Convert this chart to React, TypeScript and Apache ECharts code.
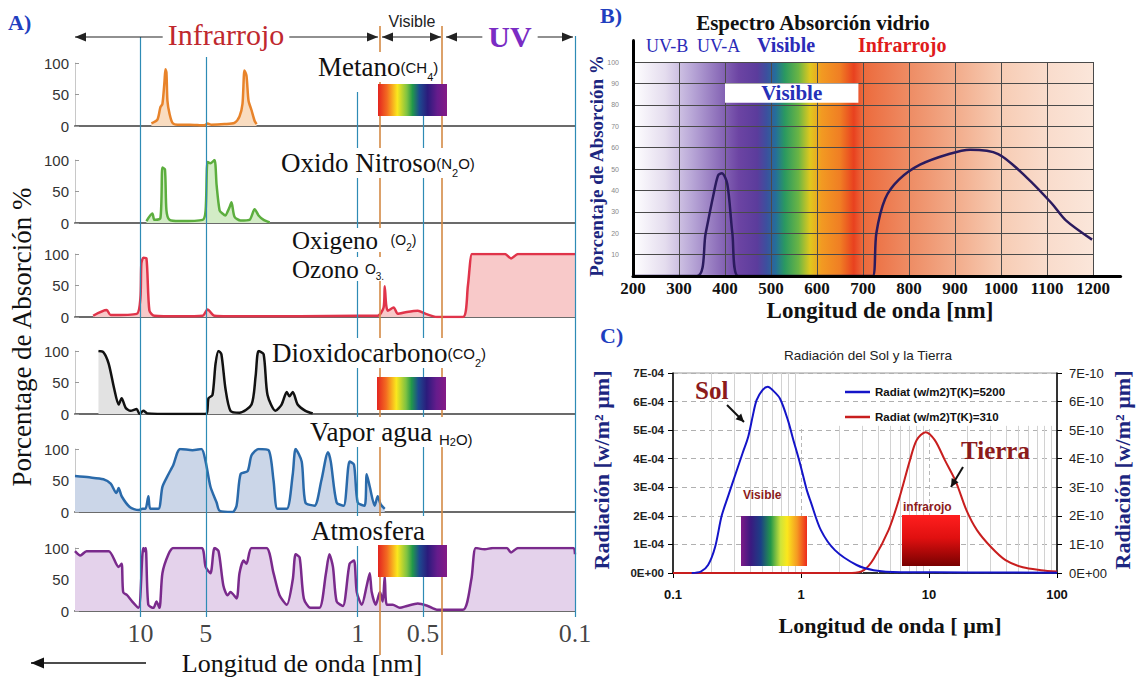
import React, { useEffect, useRef } from 'react';
import * as echarts from 'echarts';

const SERIF = '"Liberation Serif", "Times New Roman", serif';
const SANS = '"Liberation Sans", Arial, Helvetica, sans-serif';

// ---------------- Panel A: absorption (%) vs wavelength (µm, log, reversed) ----------------
const metano = [[8.9,4],[8.35,10],[8.09,30],[7.92,35],[7.75,70],[7.67,90],[7.59,85],[7.51,40],[7.35,20],[7.12,5],[6.75,2],[5.94,2],[5.07,1],[4.91,4],[4.71,2],[4.1,3],[3.69,5],[3.5,15],[3.39,35],[3.32,88],[3.25,80],[3.18,40],[3.08,25],[2.98,8],[2.92,3]];
const oxidoNitroso = [[9.38,3],[8.81,15],[8.62,5],[8.09,8],[7.92,88],[7.71,85],[7.59,20],[7.35,5],[6.61,3],[5.17,5],[5.01,20],[4.91,97],[4.76,95],[4.56,100],[4.46,60],[4.32,20],[4.19,15],[4.06,12],[3.97,18],[3.89,25],[3.81,33],[3.69,10],[3.46,4],[3.15,5],[2.98,22],[2.86,12],[2.71,5],[2.54,1]];
const oxigenoOzono = [[16.5,2],[14.3,11],[13.7,3],[10.4,5],[10.0,30],[9.9,85],[9.69,94],[9.38,93],[9.09,10],[8.62,2],[6.61,1],[5.17,2],[4.91,12],[4.56,2],[3.15,1],[1.85,1],[0.99,2],[0.809,2],[0.76,15],[0.751,49],[0.74,20],[0.727,10],[0.683,15],[0.654,5],[0.594,8],[0.529,10],[0.486,5],[0.432,0],[0.328,0],[0.311,50],[0.298,100],[0.286,100],[0.21,100],[0.197,93],[0.183,100],[0.1,100]];
const dioxidoCarbono = [[15.6,100],[14.8,98],[14.0,80],[13.2,40],[12.6,15],[12.2,25],[11.7,10],[11.1,5],[10.4,8],[10.1,0],[9.69,5],[9.29,1],[7.0,0],[5.01,0],[4.86,25],[4.66,30],[4.51,80],[4.37,100],[4.24,95],[4.06,40],[3.85,5],[3.5,2],[3.08,15],[2.95,60],[2.86,100],[2.71,95],[2.6,30],[2.39,5],[2.24,15],[2.12,35],[2.06,28],[1.99,35],[1.89,15],[1.74,5],[1.61,1]];
const vaporAgua = [[20,57],[17.2,55],[14.8,52],[13.7,45],[12.9,30],[12.6,38],[12.2,25],[11.2,8],[10.2,3],[9.79,5],[9.48,5],[9.19,25],[9.0,5],[8.26,5],[7.92,40],[7.43,60],[7.05,75],[6.75,95],[6.54,100],[5.76,98],[5.24,100],[5.01,80],[4.76,40],[4.46,15],[4.32,2],[3.77,0],[3.61,10],[3.46,60],[3.21,65],[3.08,90],[2.86,100],[2.57,98],[2.44,50],[2.34,5],[2.12,5],[1.99,60],[1.93,100],[1.81,80],[1.74,15],[1.58,10],[1.47,50],[1.37,95],[1.33,80],[1.25,15],[1.16,10],[1.09,80],[1.04,75],[1.0,15],[0.929,10],[0.909,60],[0.88,40],[0.835,10],[0.809,25],[0.784,12],[0.751,5]];
const atmosfera = [[20,95],[18.9,88],[17.7,95],[14.0,95],[12.6,70],[12.2,75],[12.0,30],[11.5,25],[10.9,15],[10.2,5],[9.79,90],[9.69,100],[9.59,95],[9.45,100],[9.2,10],[8.71,5],[8.44,15],[8.17,5],[7.92,60],[7.43,90],[7.05,100],[5.24,100],[5.01,70],[4.76,60],[4.56,100],[4.37,95],[4.15,40],[3.97,25],[3.85,30],[3.61,20],[3.5,60],[3.35,80],[3.25,75],[3.08,100],[2.63,100],[2.44,60],[2.29,25],[2.12,10],[1.99,50],[1.93,90],[1.85,85],[1.77,20],[1.65,5],[1.5,5],[1.4,60],[1.35,90],[1.3,70],[1.25,15],[1.17,8],[1.09,75],[1.04,80],[1.01,30],[0.958,10],[0.909,40],[0.88,60],[0.862,30],[0.826,10],[0.79,30],[0.767,15],[0.751,55],[0.735,10],[0.69,10],[0.64,5],[0.594,8],[0.529,12],[0.476,8],[0.432,2],[0.328,2],[0.3,50],[0.286,100],[0.26,98],[0.239,100],[0.206,100],[0.197,93],[0.183,100],[0.102,100],[0.1,90]];
const aGuideWavelengths = [10, 5, 1, 0.5, 0.1];
const aVisibleBounds = [0.79, 0.41];
const aTickLabels = [10, 5, 1, 0.5, 0.1];

// ---------------- Panel B: glass absorption (%) vs wavelength (nm) ----------------
const bWavelengthTicks = [200, 300, 400, 500, 600, 700, 800, 900, 1000, 1100, 1200];
const bPercentTicks = [10, 20, 30, 40, 50, 60, 70, 80, 90, 100];
const vidrio = [[200,0],[339,0],[358,20],[374,37],[385,47],[393,48],[405,43],[416,20],[429,0],[700,0],[721,0],[729,20],[748,36],[778,45],[824,52],[887,57],[933,59],[994,57],[1056,46],[1110,34],[1141,26],[1198,17]];

// ---------------- Panel C: radiation vs wavelength (µm, log) ----------------
const solName = 'Radiat (w/m2)T(K)=5200';
const tierraName = 'Radiat (w/m2)T(K)=310';
const sol = [[0.14,0],[0.165,0.05e-4],[0.188,0.28e-4],[0.213,0.9e-4],[0.24,2.0e-4],[0.27,2.7e-4],[0.31,3.5e-4],[0.35,4.2e-4],[0.386,4.75e-4],[0.42,5.5e-4],[0.45,6.05e-4],[0.5,6.4e-4],[0.55,6.52e-4],[0.6,6.4e-4],[0.686,6.1e-4],[0.79,5.35e-4],[0.866,4.7e-4],[0.98,3.85e-4],[1.11,2.9e-4],[1.19,2.5e-4],[1.43,1.5e-4],[1.84,0.8e-4],[2.72,0.28e-4],[3.7,0.1e-4],[6,0.03e-4],[20,0.02e-4],[100,0.01e-4]];
const tierra = [[0.1,0],[2.5,0],[3.1,0.1e-10],[3.7,0.5e-10],[4.83,1.5e-10],[5.8,2.55e-10],[7.1,3.95e-10],[8.0,4.65e-10],[9.4,4.93e-10],[11.1,4.65e-10],[13.3,3.95e-10],[16.2,3.2e-10],[19.6,2.2e-10],[23.7,1.5e-10],[30.6,0.9e-10],[39.6,0.45e-10],[54,0.2e-10],[75,0.1e-10],[100,0.05e-10]];
const cMinorWavelengths = [0.2,0.3,0.4,0.5,0.6,0.7,0.8,0.9,2,3,4,5,6,7,8,9,20,30,40,50,60,70,80,90];
const cMajorWavelengths = [1, 10];

// ---------------- layout ----------------
const A_LEFT = 75, A_WIDTH = 500, A_H = 63;
const A_TOPS = [63, 160, 254, 351, 449, 548];
const A_GUIDE_TOPS = [37, 57, 92, 116, 36];

const rows = [
  { data: metano, line: '#e8832a', fill: '#f9dcc0' },
  { data: oxidoNitroso, line: '#5cae3e', fill: '#d3ecc6' },
  { data: oxigenoOzono, line: '#e0344a', fill: '#f8c9c9' },
  { data: dioxidoCarbono, line: '#111111', fill: '#e2e2e2' },
  { data: vaporAgua, line: '#2a6aaa', fill: '#cbd6e8' },
  { data: atmosfera, line: '#7a2a8c', fill: '#e4d2eb' },
];

const specA = () => new echarts.graphic.LinearGradient(0, 0, 1, 0, [
  { offset: 0, color: '#e3241f' }, { offset: 0.13, color: '#f36a21' }, { offset: 0.28, color: '#fbe71d' },
  { offset: 0.42, color: '#7dc242' }, { offset: 0.5, color: '#22984a' }, { offset: 0.6, color: '#1d4a8f' },
  { offset: 0.72, color: '#2b1b7c' }, { offset: 0.86, color: '#651c8c' }, { offset: 1, color: '#851a86' },
]);
const specC = () => new echarts.graphic.LinearGradient(0, 0, 1, 0, [
  { offset: 0, color: '#7d1a88' }, { offset: 0.15, color: '#3a1a80' }, { offset: 0.3, color: '#1c3f86' },
  { offset: 0.45, color: '#23974a' }, { offset: 0.6, color: '#cfe43a' }, { offset: 0.7, color: '#fbe71d' },
  { offset: 0.85, color: '#f59a22' }, { offset: 1, color: '#ee2a1c' },
]);
const specB = () => new echarts.graphic.LinearGradient(0, 0, 1, 0, [
  { offset: 0, color: '#ffffff' }, { offset: 0.07, color: '#e4dcee' }, { offset: 0.13, color: '#b7a5d6' },
  { offset: 0.19, color: '#8a6bb8' }, { offset: 0.23, color: '#6c44a3' }, { offset: 0.27, color: '#5b3c9c' },
  { offset: 0.29, color: '#3d4f9e' }, { offset: 0.31, color: '#256e9a' }, { offset: 0.33, color: '#2a9960' },
  { offset: 0.36, color: '#6bb544' }, { offset: 0.385, color: '#e0c81e' }, { offset: 0.41, color: '#f29a22' },
  { offset: 0.45, color: '#f07e24' }, { offset: 0.48, color: '#e8411f' }, { offset: 0.5, color: '#ec6a3c' },
  { offset: 0.6, color: '#ee8c64' }, { offset: 0.7, color: '#f2ab8a' }, { offset: 0.8, color: '#f7ccb4' },
  { offset: 0.9, color: '#f9dccc' }, { offset: 1, color: '#fbe6da' },
]);

function txt(text: string, x: number, y: number, font: string, fill: string, extra: any = {}, elExtra: any = {}) {
  const align = extra.align || 'left';
  return {
    type: 'text', x, y, z: 100, ...elExtra,
    style: { text, font, fill, align, textAlign: align, verticalAlign: 'middle', textVerticalAlign: 'middle', ...extra },
  };
}

function rich(x: number, y: number, text: string, richDef: any, bg = true) {
  return {
    type: 'text', x, y, z: 100,
    style: {
      text, rich: richDef, align: 'left', textAlign: 'left', verticalAlign: 'middle', textVerticalAlign: 'middle',
      backgroundColor: bg ? '#ffffff' : undefined, padding: [0, 2, 0, 2],
    },
  };
}

function arrow(x1: number, y1: number, x2: number, y2: number, color: string, width: number, heads: [boolean, boolean], L = 11, Wd = 4.5) {
  const els: any[] = [{ type: 'line', z: 90, shape: { x1, y1, x2, y2 }, style: { stroke: color, lineWidth: width } }];
  const head = (tx: number, ty: number, fx: number, fy: number) => {
    const a = Math.atan2(ty - fy, tx - fx);
    const bx = tx - L * Math.cos(a), by = ty - L * Math.sin(a);
    return {
      type: 'polygon', z: 91,
      shape: { points: [[tx, ty], [bx - Wd * Math.sin(a), by + Wd * Math.cos(a)], [bx + Wd * Math.sin(a), by - Wd * Math.cos(a)]] },
      style: { fill: color },
    };
  };
  if (heads[0]) els.push(head(x1, y1, x2, y2));
  if (heads[1]) els.push(head(x2, y2, x1, y1));
  return els;
}

const sub = (size: number) => ({ fontFamily: SANS, fontSize: size, fill: '#111', verticalAlign: 'bottom' });
const rowRich = {
  m: { fontFamily: SERIF, fontSize: 27, fill: '#111', lineHeight: 30 },
  s: { fontFamily: SANS, fontSize: 15, fill: '#111' },
  u: sub(11),
};
const rowRichTight = {
  m: { fontFamily: SERIF, fontSize: 25, fill: '#111', lineHeight: 24 },
  s: { fontFamily: SANS, fontSize: 14, fill: '#111' },
  u: sub(10),
};

const sciLabel = (exp: number) => (v: number) => {
  if (v === 0) return '0E+00';
  return `${Math.round(v / Math.pow(10, exp))}E-${String(-exp).padStart(2, '0')}`;
};

function buildOption() {
  const grid: any[] = [];
  const xAxis: any[] = [];
  const yAxis: any[] = [];
  const series: any[] = [];

  // Panel A rows
  rows.forEach((r, i) => {
    grid.push({ left: A_LEFT, top: A_TOPS[i], width: A_WIDTH, height: A_H });
    xAxis.push({
      type: 'log', logBase: 10, gridIndex: i, min: 0.1, max: 20, inverse: true,
      axisLine: { show: true, onZero: false, lineStyle: { color: '#6b6b6b', width: 2 } },
      axisTick: { show: false }, axisLabel: { show: false }, splitLine: { show: false },
    });
    yAxis.push({
      type: 'value', gridIndex: i, min: 0, max: 100, interval: 50,
      axisLine: { show: true, lineStyle: { color: '#c8c8c8', width: 1 } },
      axisTick: { show: true, inside: true, length: 4, lineStyle: { color: '#999' } },
      axisLabel: { fontFamily: SANS, fontSize: 15, color: '#333', margin: 6 },
      splitLine: { show: false },
    });
    series.push({
      type: 'line', xAxisIndex: i, yAxisIndex: i, data: r.data, symbol: 'none', showSymbol: false,
      smooth: 0.25, lineStyle: { color: r.line, width: 2.5 }, areaStyle: { color: r.fill, opacity: 1 }, z: 2,
    });
  });

  // Panel A overlay (guides and bottom tick labels); y axis is the page's vertical pixel position
  grid.push({ left: A_LEFT, top: 0, width: A_WIDTH, height: 678 });
  xAxis.push({ type: 'log', logBase: 10, gridIndex: 6, min: 0.1, max: 20, inverse: true, show: false });
  yAxis.push({ type: 'value', gridIndex: 6, min: 0, max: 678, inverse: true, show: false });
  series.push({
    type: 'scatter', xAxisIndex: 6, yAxisIndex: 6, z: 4,
    data: aTickLabels.map((v) => [v, 633]),
    symbolSize: 1, itemStyle: { color: 'rgba(0,0,0,0)' },
    label: { show: true, position: 'inside', formatter: (p: any) => String(p.value[0]), fontFamily: SERIF, fontSize: 26, color: '#111' },
    markLine: {
      silent: true, symbol: ['none', 'none'], label: { show: false }, animation: false,
      data: [
        ...aGuideWavelengths.map((v, k) => [{ coord: [v, A_GUIDE_TOPS[k]], lineStyle: { color: '#2e8bb5', width: 1.2, type: 'solid' } }, { coord: [v, 617] }]),
        ...aVisibleBounds.map((v) => [{ coord: [v, 26], lineStyle: { color: '#d48a45', width: 1.6, type: 'solid' } }, { coord: [v, 655] }]),
      ],
    },
  });

  // Panel B
  const bIdx = 7;
  grid.push({ left: 633, top: 40.6, width: 487.6, height: 235.4 });
  xAxis.push({
    type: 'value', gridIndex: bIdx, min: 200, max: 1260, interval: 100, z: 10,
    axisLine: { show: true, onZero: false, lineStyle: { color: '#000', width: 3 } },
    axisTick: { show: false },
    axisLabel: { fontFamily: SERIF, fontWeight: 'bold', fontSize: 17, color: '#111', margin: 4, formatter: (v: number) => (v > 1200 ? '' : String(v)) },
    splitLine: { show: false },
  });
  yAxis.push({
    type: 'value', gridIndex: bIdx, min: 0, max: 110, interval: 10, z: 10,
    axisLine: { show: true, lineStyle: { color: '#000', width: 3 } },
    axisTick: { show: false },
    axisLabel: { fontFamily: SANS, fontSize: 7, color: '#888', margin: 14, formatter: (v: number) => (v === 0 || v > 100 ? '' : String(v)) },
    splitLine: { show: false },
  });
  series.push({
    type: 'line', xAxisIndex: bIdx, yAxisIndex: bIdx, data: [[200, 0]], symbol: 'none', lineStyle: { opacity: 0 }, z: 1,
    markArea: { silent: true, z: 1, data: [[{ xAxis: 200, yAxis: 0, itemStyle: { color: specB() } }, { xAxis: 1200, yAxis: 100 }]] },
    markLine: {
      silent: true, z: 3, symbol: ['none', 'none'], label: { show: false }, lineStyle: { color: '#4a4a4a', width: 1, type: 'solid' },
      data: [
        ...bWavelengthTicks.slice(1).map((v) => [{ coord: [v, 0] }, { coord: [v, 100] }]),
        ...bPercentTicks.map((v) => [{ coord: [200, v] }, { coord: [1200, v] }]),
      ],
    },
  });
  series.push({
    type: 'line', xAxisIndex: bIdx, yAxisIndex: bIdx, data: [[200, 0]], symbol: 'none', lineStyle: { opacity: 0 }, z: 6,
    markArea: {
      silent: true, z: 6,
      data: [[{
        xAxis: 400, yAxis: 81, itemStyle: { color: '#ffffff' },
        label: { show: true, position: 'inside', formatter: 'Visible', fontFamily: SERIF, fontWeight: 'bold', fontSize: 21, color: '#2530b8' },
      }, { xAxis: 690, yAxis: 90 }]],
    },
  });
  series.push({
    type: 'line', name: 'vidrio', xAxisIndex: bIdx, yAxisIndex: bIdx, data: vidrio, symbol: 'none', smooth: 0.3,
    lineStyle: { color: '#2b1b5e', width: 2.5 }, z: 8,
  });

  // Panel C
  const cIdx = 8;
  grid.push({ left: 673, top: 373, width: 384, height: 200, show: true, borderColor: '#9a9a9a', borderWidth: 1, backgroundColor: 'transparent' });
  xAxis.push({
    type: 'log', logBase: 10, gridIndex: cIdx, min: 0.1, max: 100,
    axisLine: { show: true, onZero: false, lineStyle: { color: '#000', width: 1.5 } },
    axisTick: { show: true, length: 5, lineStyle: { color: '#000' } },
    axisLabel: { fontFamily: SANS, fontWeight: 'bold', fontSize: 13, color: '#111', margin: 15 },
    splitLine: { show: false },
  });
  yAxis.push({
    type: 'value', gridIndex: cIdx, min: 0, max: 7e-4, interval: 1e-4, position: 'left',
    axisLine: { show: true, lineStyle: { color: '#000', width: 1.5 } },
    axisTick: { show: true, length: 5, lineStyle: { color: '#000' } },
    axisLabel: { fontFamily: SANS, fontWeight: 'bold', fontSize: 11.5, color: '#222', margin: 9, formatter: sciLabel(-4) },
    splitLine: { show: true, lineStyle: { color: '#b0b0b0', type: [5, 4], width: 1 } },
  });
  yAxis.push({
    type: 'value', gridIndex: cIdx, min: 0, max: 7e-10, interval: 1e-10, position: 'right',
    axisLine: { show: true, lineStyle: { color: '#000', width: 1.5 } },
    axisTick: { show: true, length: 5, lineStyle: { color: '#000' } },
    axisLabel: { fontFamily: SANS, fontSize: 13, color: '#222', margin: 12, formatter: sciLabel(-10) },
    splitLine: { show: false },
  });
  series.push({
    type: 'line', xAxisIndex: cIdx, yAxisIndex: 8, data: [[0.1, 0]], symbol: 'none', lineStyle: { opacity: 0 }, z: 1,
    markLine: {
      silent: true, z: 1, symbol: ['none', 'none'], label: { show: false },
      data: [
        ...cMinorWavelengths.map((v) => [{ coord: [v, 0], lineStyle: { color: '#d2d2d2', width: 1, type: 'solid' } }, { coord: [v, v < 1 ? 7e-4 : 5.15e-4] }]),
        ...cMajorWavelengths.map((v) => [{ coord: [v, 0], lineStyle: { color: '#b8b8b8', width: 1, type: [4, 3] } }, { coord: [v, 5.15e-4] }]),
      ],
    },
  });
  series.push({
    type: 'line', name: tierraName, xAxisIndex: cIdx, yAxisIndex: 9, data: tierra, symbol: 'none', smooth: 0.3,
    lineStyle: { color: '#c81e1e', width: 2 }, itemStyle: { color: '#c81e1e' }, z: 3,
  });
  series.push({
    type: 'line', name: solName, xAxisIndex: cIdx, yAxisIndex: 8, data: sol, symbol: 'none', smooth: 0.3,
    lineStyle: { color: '#1414c8', width: 2 }, itemStyle: { color: '#1414c8' }, z: 4,
  });

  const graphic: any[] = [
    // ---- Panel A ----
    txt('A)', 8, 22, `bold 22px ${SERIF}`, '#1f3fbf'),
    ...arrow(75, 37, 378, 37, '#222', 1.2, [true, true]),
    ...arrow(382, 37, 441, 37, '#222', 1.2, [true, true]),
    ...arrow(446, 37, 573, 37, '#222', 1.2, [true, true]),
    txt('Infrarrojo', 226, 34, `30px ${SERIF}`, '#c0282e', { align: 'center', backgroundColor: '#fff', padding: [0, 5, 0, 5] }),
    txt('Visible', 412, 21, `16px ${SANS}`, '#222', { align: 'center' }),
    txt('UV', 510, 36, `bold 30px ${SERIF}`, '#7a2cc4', { align: 'center', backgroundColor: '#fff', padding: [0, 6, 0, 6] }),
    txt('Porcentage de Absorción %', 22, 337, `27px ${SERIF}`, '#111', { align: 'center' }, { rotation: Math.PI / 2 }),
    txt('Longitud de onda [nm]', 302, 663, `26px ${SERIF}`, '#111', { align: 'center' }),
    ...arrow(31, 663, 146, 663, '#111', 1.4, [true, false], 13, 5.5),
    rich(316, 67, '{m|Metano}{s|(CH}{u|4}{s|)}', rowRich),
    rich(279, 163, '{m|Oxido Nitroso}{s|(N}{u|2}{s|O)}', rowRich),
    rich(290, 240, '{m|Oxigeno  }{s|(O}{u|2}{s|)}', rowRichTight),
    rich(290, 269, '{m|Ozono }{s|O}{u|3.}', rowRichTight),
    rich(270, 353, '{m|Dioxidocarbono}{s|(CO}{u|2}{s|)}', rowRich),
    rich(308, 432, '{m|Vapor agua }{t|H}{u|2}{t|O)}', { ...rowRich, t: { fontFamily: SANS, fontSize: 15, fill: '#111', verticalAlign: 'bottom' } }),
    rich(309, 531, '{m|Atmosfera}', rowRich),
    { type: 'rect', z: 100, shape: { x: 378, y: 84, width: 69, height: 32 }, style: { fill: specA() } },
    { type: 'rect', z: 100, shape: { x: 377, y: 377, width: 69, height: 33 }, style: { fill: specA() } },
    { type: 'rect', z: 100, shape: { x: 378, y: 545, width: 69, height: 32 }, style: { fill: specA() } },

    // ---- Panel B ----
    txt('B)', 600, 15, `bold 22px ${SERIF}`, '#1f3fbf'),
    txt('Espectro Absorción vidrio', 813, 23, `bold 21px ${SERIF}`, '#111', { align: 'center' }),
    txt('UV-B', 646, 46, `18px ${SERIF}`, '#2b2bb8'),
    txt('UV-A', 697, 46, `18px ${SERIF}`, '#2b2bb8'),
    txt('Visible', 757, 45, `bold 20px ${SERIF}`, '#2b2bb8'),
    txt('Infrarrojo', 858, 45, `bold 20px ${SERIF}`, '#e01b1b'),
    txt('Porcentaje de Absorción %', 596, 166, `bold 19px ${SERIF}`, '#1c2680', { align: 'center' }, { rotation: Math.PI / 2 }),
    txt('Longitud de onda [nm]', 880, 310, `bold 23px ${SERIF}`, '#111', { align: 'center' }),

    // ---- Panel C ----
    txt('C)', 600, 335, `bold 22px ${SERIF}`, '#1f3fbf'),
    txt('Radiación del Sol y la Tierra', 868, 355, `13.5px ${SANS}`, '#222', { align: 'center' }),
    txt('Sol', 695, 390, `bold 25px ${SERIF}`, '#8c1b1b'),
    txt('Tierra', 961, 450, `bold 25px ${SERIF}`, '#8c1b1b'),
    ...arrow(727, 405, 744, 422, '#111', 2, [false, true], 8, 4),
    ...arrow(963, 467, 951, 487, '#111', 2, [false, true], 8, 4),
    txt('Visible', 743, 495, `bold 12px ${SANS}`, '#8c1b1b'),
    txt('infrarojo', 903, 507, `bold 12px ${SANS}`, '#8c1b1b'),
    { type: 'rect', z: 100, shape: { x: 741, y: 516, width: 66, height: 50 }, style: { fill: specC() } },
    {
      type: 'rect', z: 100, shape: { x: 902, y: 515, width: 58, height: 51 },
      style: { fill: new echarts.graphic.LinearGradient(0, 0, 0, 1, [{ offset: 0, color: '#ff1e1e' }, { offset: 0.45, color: '#e01010' }, { offset: 1, color: '#780000' }]) },
    },
    txt('Radiación [w/m² µm]', 601, 470, `bold 22px ${SERIF}`, '#1c2680', { align: 'center' }, { rotation: Math.PI / 2 }),
    txt('Radiación [w/m² µm]', 1122, 470, `bold 22px ${SERIF}`, '#1c2680', { align: 'center' }, { rotation: Math.PI / 2 }),
    txt('Longitud de onda [ µm]', 890, 625, `bold 22px ${SERIF}`, '#111', { align: 'center' }),
  ];

  return {
    animation: false,
    backgroundColor: '#ffffff',
    grid, xAxis, yAxis, series, graphic,
    legend: {
      data: [{ name: solName, icon: 'rect' }, { name: tierraName, icon: 'rect' }],
      left: 840, top: 381, orient: 'vertical', itemWidth: 25, itemHeight: 2.5, itemGap: 13,
      selectedMode: false,
      textStyle: { fontFamily: SANS, fontWeight: 'bold', fontSize: 11.5, color: '#111' },
    },
  };
}

export default function App() {
  const ref = useRef<HTMLDivElement>(null);
  useEffect(() => {
    if (!ref.current) return;
    const chart = echarts.init(ref.current, null, { renderer: 'svg' });
    chart.setOption(buildOption() as any);
    return () => chart.dispose();
  }, []);
  return <div ref={ref} style={{ position: 'absolute', left: 0, top: 0, width: 1136, height: 678 }} />;
}
